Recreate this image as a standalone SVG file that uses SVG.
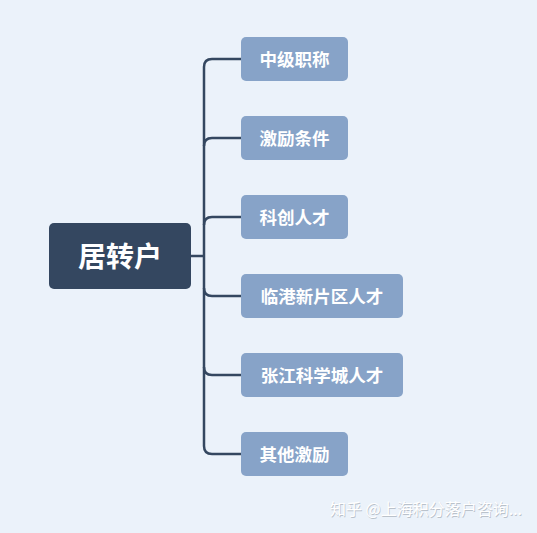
<svg xmlns="http://www.w3.org/2000/svg" width="537" height="533" viewBox="0 0 537 533">
<style>
.child rect{fill:#87a3c8;}
.child text{fill:#ffffff;font-family:"Noto Sans CJK SC","Noto Sans",sans-serif;font-weight:bold;font-size:17.5px;text-anchor:middle;dominant-baseline:central;}
.root rect{fill:#344760;}
.root text{fill:#ffffff;font-family:"Noto Sans CJK SC","Noto Sans",sans-serif;font-weight:bold;font-size:28px;text-anchor:middle;dominant-baseline:central;}
.conn path{fill:none;stroke:#344760;stroke-width:2.5;}
.wm{font-family:"Noto Sans CJK SC","Noto Sans",sans-serif;font-size:16px;}
</style>
<rect x="0" y="0" width="537" height="533" fill="#ebf2fa"/>
<g id="connectors" class="conn">
<path d="M191 256 H204"/>
<path d="M241 59 H212 Q204 59 204 67 V446 Q204 454 212 454 H241"/>
<path d="M204 146 Q204 138 212 138 H241"/>
<path d="M204 225 Q204 217 212 217 H241"/>
<path d="M204 288 Q204 296 212 296 H241"/>
<path d="M204 367 Q204 375 212 375 H241"/>
</g>
<g id="root" class="root">
<rect x="49" y="223" width="142" height="66" rx="5"/>
<text x="120" y="255">居转户</text>
</g>
<g id="n1" class="child"><rect x="241" y="37" width="107" height="44" rx="5"/><text x="294.5" y="58.5">中级职称</text></g>
<g id="n2" class="child"><rect x="241" y="116" width="107" height="44" rx="5"/><text x="294.5" y="137.5">激励条件</text></g>
<g id="n3" class="child"><rect x="241" y="195" width="107" height="44" rx="5"/><text x="294.5" y="216.5">科创人才</text></g>
<g id="n4" class="child"><rect x="241" y="274" width="162" height="44" rx="5"/><text x="322" y="295.5">临港新片区人才</text></g>
<g id="n5" class="child"><rect x="241" y="353" width="162" height="44" rx="5"/><text x="322" y="374.5">张江科学城人才</text></g>
<g id="n6" class="child"><rect x="241" y="432" width="107" height="44" rx="5"/><text x="294.5" y="453.5">其他激励</text></g>
<text class="wm" x="330.7" y="516" fill="#9aa3ad" opacity="0.6">知乎 @上海积分落户咨询...</text>
<text class="wm" x="330" y="515" fill="#ffffff">知乎 @上海积分落户咨询...</text>
</svg>
